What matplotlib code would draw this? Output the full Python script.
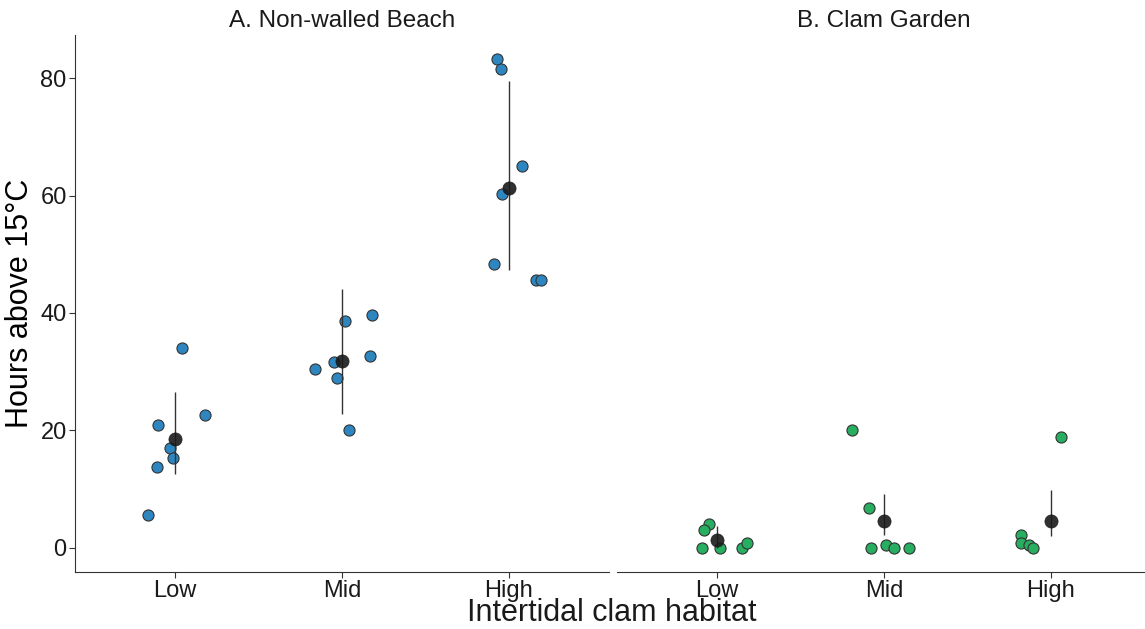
import numpy as np
import matplotlib.pyplot as plt

plt.rcParams['font.family'] = ['Liberation Sans', 'DejaVu Sans']

habitats = ['Low', 'Mid', 'High']
panel_titles = ['A. Non-walled Beach', 'B. Clam Garden']

# Hours above 15C for each logger, plus the horizontal jitter for each point
beach_low = [34.1, 22.6, 20.9, 16.9, 15.2, 13.7, 5.6]
beach_low_jit = [0.04, 0.18, -0.10, -0.03, -0.01, -0.11, -0.16]
beach_mid = [38.7, 39.6, 31.7, 30.5, 32.7, 28.9, 20.1]
beach_mid_jit = [0.02, 0.18, -0.05, -0.16, 0.17, -0.03, 0.04]
beach_high = [83.2, 81.5, 65.0, 60.2, 48.4, 45.6, 45.6]
beach_high_jit = [-0.07, -0.05, 0.08, -0.04, -0.09, 0.16, 0.19]

garden_low = [4.0, 3.0, 0.0, 0.0, 0.0, 0.7]
garden_low_jit = [-0.05, -0.08, -0.09, 0.02, 0.15, 0.18]
garden_mid = [20.0, 6.8, 0.0, 0.5, 0.0, 0.0]
garden_mid_jit = [-0.19, -0.09, -0.08, 0.01, 0.06, 0.15]
garden_high = [18.9, 2.1, 0.8, 0.5, 0.0]
garden_high_jit = [0.06, -0.18, -0.18, -0.13, -0.11]

# bootstrapped confidence limits around the means
beach_ci_low = [12.6, 22.8, 47.3]
beach_ci_high = [26.6, 44.1, 79.5]
garden_ci_low = [0.0, 2.2, 1.9]
garden_ci_high = [3.6, 9.2, 9.8]

panels = [
    dict(values=[beach_low, beach_mid, beach_high],
         jitter=[beach_low_jit, beach_mid_jit, beach_high_jit],
         ci=(beach_ci_low, beach_ci_high), color='#2E86C1'),
    dict(values=[garden_low, garden_mid, garden_high],
         jitter=[garden_low_jit, garden_mid_jit, garden_high_jit],
         ci=(garden_ci_low, garden_ci_high), color='#27AE60'),
]

W, H = 1145, 629
fig = plt.figure(figsize=(W / 100, H / 100), dpi=100)

all_vals = np.concatenate([np.concatenate(p['values']) for p in panels])
span = all_vals.max() - all_vals.min()
ylim = (all_vals.min() - 0.05 * span, all_vals.max() + 0.05 * span)

lefts = [75, 617]
for i, (p, left) in enumerate(zip(panels, lefts)):
    ax = fig.add_axes([left / W, (H - 572) / H, 534 / W, 537 / H])
    x = np.arange(1, 4)
    for k in range(3):
        vals = np.array(p['values'][k])
        xs = x[k] + np.array(p['jitter'][k])
        ax.scatter(xs, vals, s=64, color=p['color'], edgecolor='#333333',
                   linewidth=0.8, zorder=3)
    means = [np.mean(v) for v in p['values']]
    ax.vlines(x, p['ci'][0], p['ci'][1], color='#333333', lw=1.0, zorder=4)
    ax.scatter(x, means, s=90, color='#1a1a1a', alpha=0.9, zorder=5,
               edgecolor='#1a1a1a', linewidth=0.5)

    ax.set_xlim(0.4, 3.6)
    ax.set_ylim(*ylim)
    ax.set_xticks(x)
    ax.set_xticklabels(habitats, fontsize=17, color='#1a1a1a')
    ax.set_title(panel_titles[i], fontsize=17.5, pad=6, color='#1a1a1a')
    for s in ['top', 'right']:
        ax.spines[s].set_visible(False)
    ax.spines['bottom'].set_color('#333333')
    ax.tick_params(axis='x', length=4, width=0.8, color='#333333', pad=2)
    if i == 0:
        ax.set_yticks([0, 20, 40, 60, 80])
        ax.tick_params(axis='y', length=4, width=0.8, color='#333333',
                       labelsize=17, labelcolor='#1a1a1a', pad=2)
        ax.spines['left'].set_color('#333333')
        ax.set_ylabel('Hours above 15°C', fontsize=22, labelpad=4)
    else:
        ax.spines['left'].set_visible(False)
        ax.set_yticks([])

fig.text(612 / W, 1 - 613 / H, 'Intertidal clam habitat', fontsize=22,
         ha='center', va='center', color='#1a1a1a')

fig.savefig('out.png', dpi=100)
